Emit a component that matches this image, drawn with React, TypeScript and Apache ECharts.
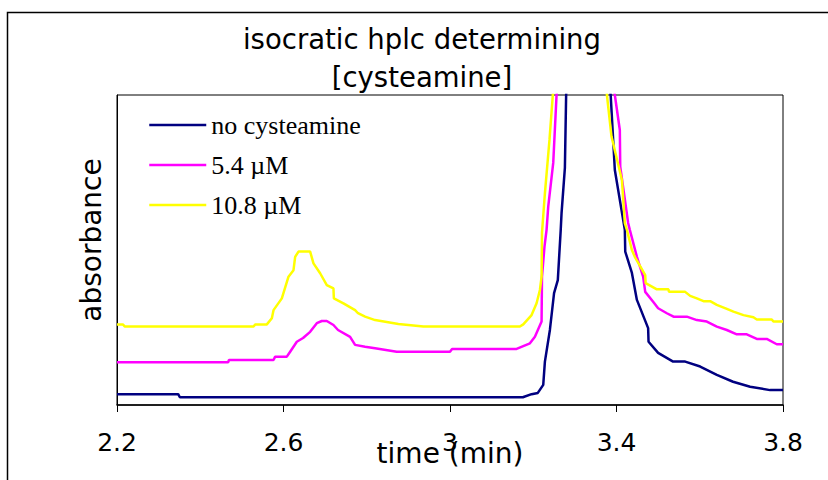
import React, { useEffect, useRef } from "react";
import * as echarts from "echarts";

const titleLines = ["isocratic hplc determining", "[cysteamine]"];
const xTicks = [2.2, 2.6, 3, 3.4, 3.8];
const xAxisName = "time (min)";
const yAxisName = "absorbance";
const seriesNames = ["no cysteamine", "5.4 µM", "10.8 µM"];
const seriesColors = ["#000080", "#FF00FF", "#FFFF00"];

// [time (min), absorbance (relative, 100 = top of plot)]
const noCysteamine: [number, number][] = [
  [2.2, 3.5], [2.347, 3.5], [2.351, 2.5], [3.175, 2.5], [3.196, 3.5], [3.211, 3.9],
  [3.224, 6.5], [3.228, 14.0], [3.24, 24.2], [3.25, 36.1], [3.259, 40.3], [3.266, 56.5],
  [3.268, 61.9], [3.276, 76.5], [3.279, 100], [3.32, 180], [3.386, 100], [3.396, 75.8],
  [3.42, 56.5], [3.421, 49.5], [3.437, 42.6], [3.449, 33.9], [3.476, 24.8], [3.477, 20.4],
  [3.5, 16.8], [3.536, 14.0], [3.565, 14.0], [3.601, 12.4], [3.641, 9.7], [3.68, 7.5],
  [3.721, 5.9], [3.769, 4.8], [3.8, 4.8],
];

const cys54: [number, number][] = [
  [2.2, 13.8], [2.467, 13.8], [2.469, 14.5], [2.576, 14.5], [2.58, 15.6], [2.608, 15.6],
  [2.616, 17.2], [2.632, 20.4], [2.647, 21.6], [2.664, 23.6], [2.68, 26.4], [2.692, 27.1],
  [2.704, 27.1], [2.72, 25.8], [2.731, 24.2], [2.76, 22.0], [2.772, 19.4], [2.796, 18.8],
  [2.82, 18.3], [2.872, 17.2], [3.0, 17.2], [3.005, 18.1], [3.16, 18.1], [3.192, 19.9],
  [3.204, 22.0], [3.22, 26.9], [3.221, 41.4], [3.227, 51.1], [3.232, 56.5], [3.236, 64.0],
  [3.248, 78.1], [3.256, 100], [3.32, 180], [3.396, 100], [3.408, 88.7], [3.409, 76.9],
  [3.428, 58.7], [3.432, 56.5], [3.449, 47.8], [3.464, 41.4], [3.469, 36.5], [3.488, 33.3],
  [3.5, 31.2], [3.521, 29.6], [3.537, 28.5], [3.569, 28.5], [3.593, 27.4], [3.617, 26.9],
  [3.641, 25.3], [3.665, 24.2], [3.689, 22.8], [3.713, 22.8], [3.737, 21.3], [3.761, 21.3],
  [3.785, 19.6], [3.8, 19.6],
];

const cys108: [number, number][] = [
  [2.2, 26.0], [2.214, 26.0], [2.219, 25.3], [2.528, 25.3], [2.532, 26.0], [2.56, 26.0],
  [2.572, 28.0], [2.576, 30.6], [2.596, 34.4], [2.612, 41.4], [2.624, 43.5], [2.628, 47.8],
  [2.636, 49.5], [2.664, 49.5], [2.672, 45.7], [2.688, 42.5], [2.704, 38.7], [2.72, 37.6],
  [2.721, 34.4], [2.744, 32.8], [2.772, 30.6], [2.779, 29.6], [2.796, 28.5], [2.82, 27.4],
  [2.876, 26.1], [2.936, 25.3], [3.168, 25.3], [3.176, 26.0], [3.196, 29.0], [3.208, 32.8],
  [3.216, 37.1], [3.22, 41.4], [3.221, 55.5], [3.228, 68.3], [3.239, 85.5], [3.247, 100],
  [3.32, 180], [3.377, 100], [3.388, 86.6], [3.413, 72.6], [3.42, 58.7], [3.425, 56.5],
  [3.437, 50.0], [3.444, 47.8], [3.469, 41.9], [3.47, 39.3], [3.497, 37.3], [3.525, 37.3],
  [3.526, 36.5], [3.565, 36.5], [3.577, 35.2], [3.593, 34.4], [3.609, 33.5], [3.625, 33.5],
  [3.641, 32.3], [3.665, 31.0], [3.681, 30.1], [3.705, 29.0], [3.729, 28.3], [3.737, 27.6],
  [3.773, 27.6], [3.777, 26.9], [3.8, 26.9],
];

const seriesData = [noCysteamine, cys54, cys108];

const SANS = "'DejaVu Sans', Verdana, sans-serif";
const SERIF = "'Liberation Serif', 'Times New Roman', serif";

export default function App() {
  const ref = useRef<HTMLDivElement>(null);

  useEffect(() => {
    document.body.style.margin = "0";
    const chart = echarts.init(ref.current as HTMLDivElement, null, { renderer: "svg" });
    chart.setOption({
      animation: false,
      backgroundColor: "#ffffff",
      title: {
        text: titleLines.join("\n"),
        left: 422,
        top: 20,
        padding: 0,
        textAlign: "center",
        textStyle: {
          fontFamily: SANS,
          fontSize: 27.5,
          fontWeight: "normal",
          color: "#000",
          lineHeight: 38,
        },
      },
      legend: {
        orient: "vertical",
        left: 148,
        top: 112,
        padding: 0,
        itemWidth: 57,
        itemHeight: 26,
        itemGap: 14,
        data: seriesNames,
        itemStyle: { opacity: 0 },
        lineStyle: { width: 2.5 },
        textStyle: { fontFamily: SERIF, fontSize: 26, color: "#000", lineHeight: 26 },
      },
      grid: {
        left: 117,
        top: 95,
        width: 666,
        height: 310,
        outerBoundsMode: "none",
        containLabel: false,
        show: true,
        borderColor: "#000",
        borderWidth: 1,
        backgroundColor: "transparent",
      },
      xAxis: {
        type: "value",
        min: xTicks[0],
        max: xTicks[xTicks.length - 1],
        interval: 0.4,
        axisLine: { show: true, lineStyle: { color: "#000", width: 1.5 } },
        axisTick: { show: true, inside: false, length: 7, lineStyle: { color: "#000" } },
        axisLabel: {
          fontFamily: SANS,
          fontSize: 25,
          color: "#000",
          margin: 25,
          formatter: (v: number) => String(+v.toFixed(1)),
        },
        splitLine: { show: false },
        name: xAxisName,
        nameLocation: "middle",
        nameGap: 34,
        nameMoveOverlap: false,
        nameTextStyle: { fontFamily: SANS, fontSize: 28, color: "#000" },
      },
      yAxis: {
        type: "value",
        min: 0,
        max: 100,
        axisLine: { show: true, lineStyle: { color: "#000" } },
        axisTick: { show: false },
        axisLabel: { show: false },
        splitLine: { show: false },
      },
      graphic: [
        {
          type: "rect",
          silent: true,
          z: -1,
          shape: { x: 7.5, y: 12.5, width: 1000, height: 1000 },
          style: { fill: "none", stroke: "#000", lineWidth: 1.5 },
        },
        {
          type: "text",
          x: 91,
          y: 240,
          rotation: Math.PI / 2,
          style: {
            text: yAxisName,
            fontFamily: SANS,
            fontSize: 28,
            fill: "#000",
            align: "center",
            verticalAlign: "middle",
            textAlign: "center",
            textVerticalAlign: "middle",
          },
        },
      ],
      series: seriesData.map((d, i) => ({
        name: seriesNames[i],
        type: "line",
        data: d,
        symbol: "none",
        clip: true,
        color: seriesColors[i],
        lineStyle: { color: seriesColors[i], width: 2.5 },
      })),
    });
    return () => chart.dispose();
  }, []);

  return <div ref={ref} style={{ width: 828, height: 480 }} />;
}
